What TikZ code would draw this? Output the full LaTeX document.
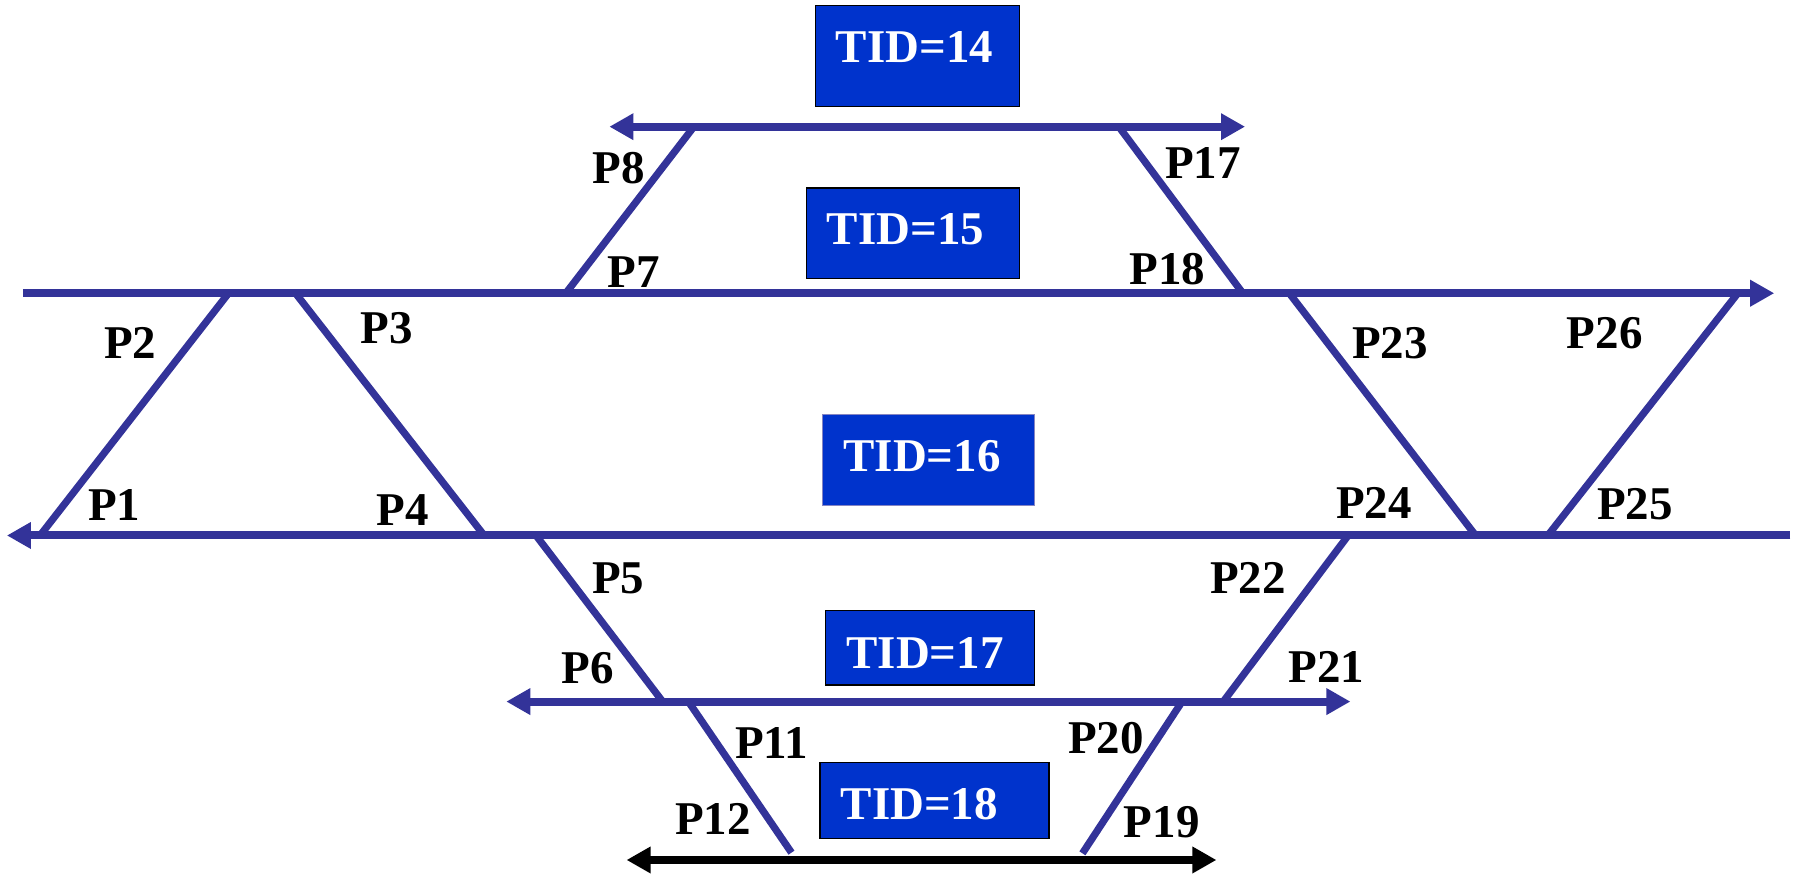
\documentclass[tikz,border=0pt]{standalone}
\usepackage{fontspec}
\setmainfont{Liberation Serif}
\usetikzlibrary{arrows.meta}
\definecolor{track}{HTML}{333399}
\definecolor{tidfill}{HTML}{0033CC}
\tikzset{
  trk/.style={draw=track, line width=7pt},
  diag/.style={draw=track, line width=6.3pt},
  tip/.style={-{Triangle[length=21pt,width=22pt]}},
  tipboth/.style={{Triangle[length=21pt,width=22pt]}-{Triangle[length=21pt,width=22pt]}},
  tidbox/.style={draw=black, line width=1.2pt, fill=tidfill, inner sep=0pt},
  tidtext/.style={text=white, font=\bfseries\fontsize{41}{45}\selectfont, inner sep=0pt},
  plab/.style={text=black, font=\bfseries\fontsize{41}{45}\selectfont, inner sep=0pt},
}
\begin{document}
\begin{tikzpicture}[x=1pt,y=-1pt]
\useasboundingbox (0,0) rectangle (1568,762.2);
% boxes
\node[tidbox, minimum width=178pt, minimum height=88pt] (b14) at (800.9,49) {};
\node[tidbox, minimum width=186pt, minimum height=79pt] (b15) at (797.1,203.6) {};
\node[tidbox, draw=track!60, line width=0.8pt, minimum width=185pt, minimum height=80pt] (b16) at (810.5,401.5) {};
\node[tidbox, minimum width=182pt, minimum height=65pt] (b17) at (811.9,565.5) {};
\node[tidbox, minimum width=200pt, minimum height=66.5pt] (b18) at (815.8,698.8) {};
\node[tidtext] (t14) at (798.4,41.5) {TID=14};
\node[tidtext] (t15) at (790.6,200.5) {TID=15};
\node[tidtext] (t16) at (805,398.5) {TID=16};
\node[tidtext] (t17) at (807.6,570) {TID=17};
\node[tidtext] (t18) at (802.6,701.9) {TID=18};
% track end points
\coordinate (aL) at (532,110.6);   \coordinate (aR) at (1087,110.6);
\coordinate (bL) at (20,256);      \coordinate (bR) at (1549,256);
\coordinate (cL) at (6,467.5);     \coordinate (cR) at (1563,467.5);
\coordinate (dL) at (442,612.5);   \coordinate (dR) at (1179,612.5);
\coordinate (eL) at (547,750.8);   \coordinate (eR) at (1062,750.8);
% switch points
\coordinate (s8a) at (605.8,110.6);  \coordinate (s8b) at (494,256);
\coordinate (s17a) at (976.8,110.6); \coordinate (s17b) at (1085,256);
\coordinate (s2a) at (199.5,256);    \coordinate (s2b) at (35,467.5);
\coordinate (s3a) at (258,256);      \coordinate (s3b) at (422.7,467.5);
\coordinate (s23a) at (1125.6,256);  \coordinate (s23b) at (1288.3,467.5);
\coordinate (s26a) at (1517.2,256);  \coordinate (s26b) at (1351.3,467.5);
\coordinate (s5a) at (468,467.5);    \coordinate (s5b) at (578.5,612.5);
\coordinate (s22a) at (1177,467.5);  \coordinate (s22b) at (1068,612.5);
\coordinate (s11a) at (601,612.5);   \coordinate (s11b) at (691,744.4);
\coordinate (s20a) at (1032,612.5);  \coordinate (s20b) at (945,745);
% diagonals
\foreach \n in {8,17,2,3,23,26,5,22,11,20}{
  \draw[diag] (s\n a) -- (s\n b);
}
% tracks
\draw[trk, tipboth] (aL) -- (aR);
\draw[trk, tip] (bL) -- (bR);
\draw[trk, tip] (cR) -- (cL);
\draw[trk, tipboth] (dL) -- (dR);
\draw[trk, draw=black, line width=7pt, tipboth] (eL) -- (eR);
% labels
\node[plab] (p1) at (99.6,441) {P1};
\node[plab] (p2) at (113.6,299.7) {P2};
\node[plab] (p3) at (337.5,286.6) {P3};
\node[plab] (p4) at (351.5,445.3) {P4};
\node[plab] (p5) at (539.7,505) {P5};
\node[plab] (p6) at (513,583.5) {P6};
\node[plab] (p7) at (553.3,238) {P7};
\node[plab] (p8) at (539.9,147) {P8};
\node[plab] (p11) at (673.6,649) {P11};
\node[plab] (p12) at (622.5,715) {P12};
\node[plab] (p17) at (1050.3,142.6) {P17};
\node[plab] (p18) at (1019,235) {P18};
\node[plab] (p19) at (1014.3,717.4) {P19};
\node[plab] (p20) at (965.6,644.6) {P20};
\node[plab] (p21) at (1158,582) {P21};
\node[plab] (p22) at (1089.6,505) {P22};
\node[plab] (p23) at (1213.5,299.7) {P23};
\node[plab] (p24) at (1199.6,439.4) {P24};
\node[plab] (p25) at (1427.4,440) {P25};
\node[plab] (p26) at (1401,291) {P26};
\end{tikzpicture}
\end{document}
